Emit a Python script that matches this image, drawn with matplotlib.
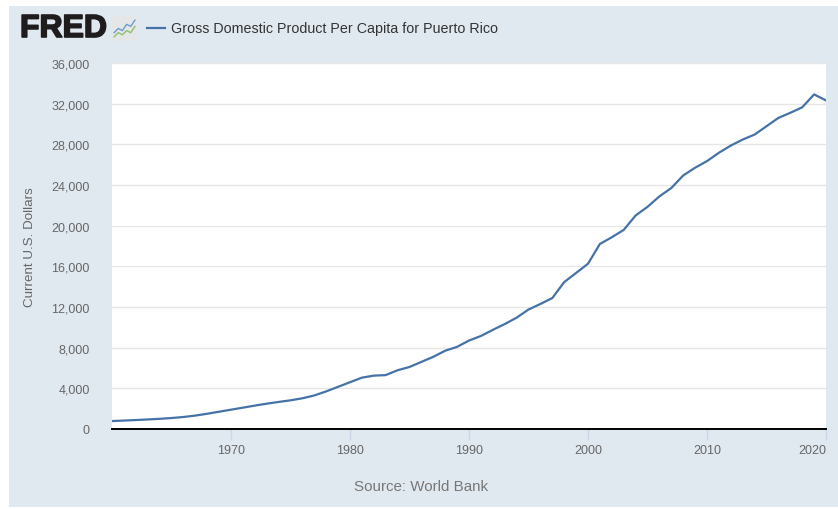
import matplotlib
matplotlib.use("Agg")
import matplotlib.pyplot as plt
import matplotlib.patheffects as pe
from matplotlib.patches import Rectangle
from matplotlib.ticker import FuncFormatter

plt.rcParams['font.family'] = ['Liberation Sans', 'DejaVu Sans']

# GDP per capita for Puerto Rico, current US$
years = list(range(1960, 2021))
gdp_per_capita = [
    780, 830, 880, 940, 1000, 1080, 1180, 1320, 1500, 1700,
    1900, 2100, 2300, 2490, 2660, 2820, 3020, 3300, 3700, 4150,
    4600, 5050, 5250, 5300, 5780, 6100, 6600, 7100, 7700, 8080,
    8700, 9150, 9750, 10320, 10950, 11750, 12300, 12880, 14450, 15350,
    16260, 18200, 18860, 19580, 21000, 21850, 22880, 23700, 24940, 25700,
    26350, 27170, 27880, 28470, 28960, 29780, 30600, 31100, 31640, 32910,
    32320,
]
y_ticks = list(range(0, 36001, 4000))
x_ticks = [1970, 1980, 1990, 2000, 2010, 2020]

series_name = "Gross Domestic Product Per Capita for Puerto Rico"
y_label = "Current U.S. Dollars"
source = "Source: World Bank"

line_color = "#4572a7"
bg_color = "#e1e9f0"
text_color = "#666666"

W, H = 838, 510
fig = plt.figure(figsize=(W / 100, H / 100), dpi=100, facecolor="white")

# light blue-gray panel behind everything
fig.patches.append(Rectangle((9 / W, 2 / H), (W - 9) / W, (508 - 7) / H,
                             transform=fig.transFigure, facecolor=bg_color,
                             edgecolor="none", zorder=-5))

ax = fig.add_axes([112 / W, (H - 430) / H, 714 / W, 366 / H])
ax.set_zorder(2)
ax.set_facecolor("white")
ax.plot(years, gdp_per_capita, color=line_color, linewidth=1.6, zorder=3,
        solid_joinstyle="round")

ax.set_xlim(1960, 2020)
ax.set_ylim(0, 36000)
ax.set_yticks(y_ticks)
ax.set_xticks(x_ticks)
ax.yaxis.set_major_formatter(FuncFormatter(lambda v, p: f"{int(v):,}"))
ax.grid(axis="y", color="#e6e6e6", linewidth=1)
ax.set_axisbelow(True)

for s in ["top", "right", "left"]:
    ax.spines[s].set_visible(False)
ax.spines["bottom"].set_color("black")
ax.spines["bottom"].set_linewidth(1.4)
ax.spines["bottom"].set_zorder(4)

ax.tick_params(axis="y", length=0, pad=16, labelsize=9, labelcolor=text_color)
ax.tick_params(axis="x", length=8, width=1, color="#ccd6eb", pad=3,
               labelsize=9, labelcolor=text_color)
# last label sits inside the plot's right edge
labels = ax.get_xticklabels()
labels[-1].set_horizontalalignment("right")

fig.text(30 / W, 1 - 247 / H, y_label, rotation=90, ha="center", va="center",
         fontsize=9.6, color=text_color)

fig.text(421 / W, 1 - 487 / H, source, ha="center", va="center",
         fontsize=10.9, color="#777777")

# header: FRED logo, little chart icon, legend entry
fig.text(20 / W, 1 - 30 / H, "FRED", ha="left", va="center", fontsize=23,
         fontweight="bold", color="#1f1c1d",
         path_effects=[pe.withStroke(linewidth=1.2, foreground="#1f1c1d")])

icon = fig.add_axes([112 / W, 1 - 42 / H, 25 / W, 25 / H])
icon.set_zorder(2)
icon.set_facecolor("#e4e6e8")
icon.plot([0, 2, 4, 6, 8, 10], [3, 5, 4, 7, 6, 9], color="#6e9bd1", lw=1)
icon.plot([0, 2, 4, 6, 8, 10], [1, 3, 2, 4, 3, 6], color="#8dc26f", lw=1)
icon.set_xlim(-1, 11)
icon.set_ylim(-1, 11)
icon.set_xticks([])
icon.set_yticks([])
for s in icon.spines.values():
    s.set_visible(False)

fig.add_artist(plt.Line2D([147 / W, 165 / W], [1 - 29 / H, 1 - 29 / H],
                          transform=fig.transFigure, color=line_color, lw=1.6))
fig.text(171 / W, 1 - 29 / H, series_name, ha="left", va="center",
         fontsize=10.3, color="#333333")

fig.savefig("out.png", dpi=100, facecolor=fig.get_facecolor())
